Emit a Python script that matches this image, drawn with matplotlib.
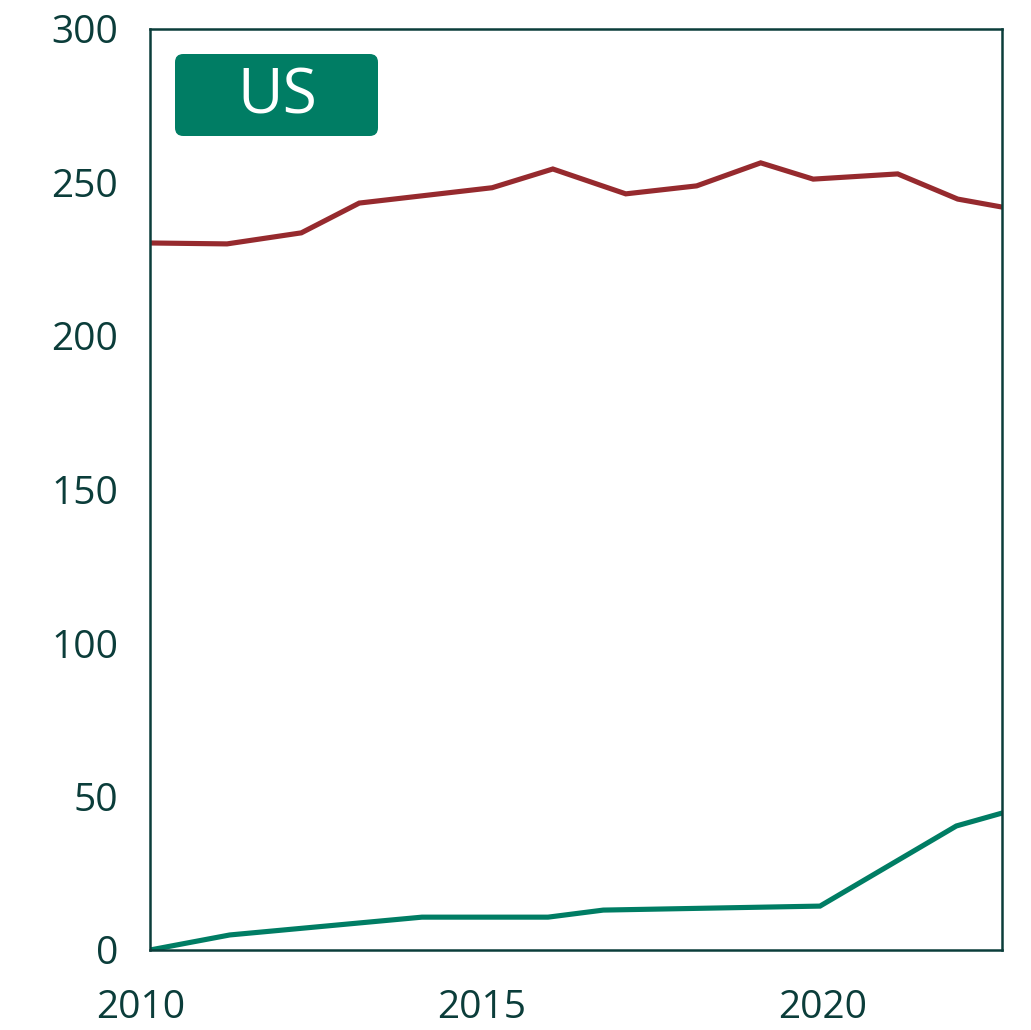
import matplotlib
matplotlib.use('Agg')
import matplotlib.pyplot as plt
import matplotlib.transforms as mtransforms
from matplotlib.patches import FancyBboxPatch

# Data (fractional years)
red_years = [2010.0, 2011.13, 2012.22, 2013.07, 2015.02, 2015.91, 2016.98,
             2018.02, 2018.96, 2019.73, 2020.97, 2021.85, 2022.5]
red_values = [230.3, 230.0, 233.6, 243.3, 248.3, 254.4, 246.3,
              248.9, 256.4, 251.1, 252.8, 244.6, 242.0]

green_years = [2010.0, 2011.17, 2013.99, 2015.84, 2016.65, 2019.83, 2021.83, 2022.5]
green_values = [0.0, 4.9, 10.7, 10.7, 13.0, 14.3, 40.4, 44.6]

x_ticks = [2010, 2015, 2020]
y_ticks = [0, 50, 100, 150, 200, 250, 300]
panel_label = 'US'

dark = '#0b3d3a'
red = '#962a2e'
green = '#007d64'

plt.rcParams['font.family'] = ['Open Sans', 'DejaVu Sans']

fig = plt.figure(figsize=(10.31, 10.30), dpi=100)
ax = fig.add_axes([150/1031, 80/1030, 852/1031, 921/1030])

ax.plot(red_years, red_values, color=red, linewidth=3.7, solid_joinstyle='miter')
ax.plot(green_years, green_values, color=green, linewidth=3.7, solid_joinstyle='miter')

ax.set_xlim(2010, 2022.5)
ax.set_ylim(0, 300)
ax.set_xticks(x_ticks)
ax.set_yticks(y_ticks)
ax.tick_params(axis='both', length=0, labelsize=28, colors=dark)
ax.tick_params(axis='y', pad=23)
ax.tick_params(axis='x', pad=28)
for lab in ax.get_xticklabels():
    lab.set_transform(lab.get_transform() + mtransforms.ScaledTranslation(-9/100, 0, fig.dpi_scale_trans))
for sp in ax.spines.values():
    sp.set_color(dark)
    sp.set_linewidth(1.8)

# label box
box = FancyBboxPatch((175/1031, 1 - 136/1030), 203/1031, 82/1030,
                     boxstyle='round,pad=0,rounding_size=0.008',
                     transform=fig.transFigure, facecolor=green, edgecolor='none')
fig.patches.append(box)
fig.text(277/1031, 1 - 97/1030, panel_label, color='white', fontsize=45,
         ha='center', va='center')

fig.savefig('out.png', dpi=100)
